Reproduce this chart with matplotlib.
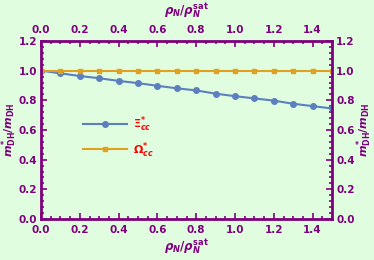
import numpy as np
import matplotlib
matplotlib.use("Agg")
import matplotlib.pyplot as plt
from matplotlib.ticker import MultipleLocator, FormatStrFormatter

# datos
rho = [0.0, 0.1, 0.2, 0.3, 0.4, 0.5, 0.6, 0.7, 0.8, 0.9, 1.0, 1.1, 1.2, 1.3, 1.4, 1.5]
xi_cc = [1.0, 0.982, 0.964, 0.949, 0.931, 0.916, 0.898, 0.881, 0.867, 0.845,
         0.828, 0.813, 0.798, 0.777, 0.761, 0.745]
omega_cc = [1.0] * 16

purple = "#7f007f"
bg = "#e0fde0"

plt.rcParams["mathtext.fontset"] = "custom"
plt.rcParams["mathtext.it"] = "DejaVu Sans:italic:bold"
plt.rcParams["mathtext.rm"] = "DejaVu Sans:bold"
plt.rcParams["mathtext.bf"] = "DejaVu Sans:bold"

fig = plt.figure(figsize=(3.74, 2.6), dpi=100, facecolor=bg)
ax = fig.add_axes([41/374, 41/260, 291/374, 178/260])
ax.set_facecolor(bg)

ax.plot(rho, xi_cc, color="#5b7fbf", lw=1.5, marker="o", ms=4, label=r"$\Xi^{*}_{cc}$")
ax.plot(rho, omega_cc, color="#e0a020", lw=1.5, marker="s", ms=3, label=r"$\Omega^{*}_{cc}$")

ax.set_xlim(0, 1.5)
ax.set_ylim(0, 1.2)
ax.xaxis.set_major_locator(MultipleLocator(0.2))
ax.xaxis.set_minor_locator(MultipleLocator(0.05))
ax.yaxis.set_major_locator(MultipleLocator(0.2))
ax.yaxis.set_minor_locator(MultipleLocator(0.04))
ax.xaxis.set_major_formatter(FormatStrFormatter("%.1f"))
ax.yaxis.set_major_formatter(FormatStrFormatter("%.1f"))

for s in ax.spines.values():
    s.set_color(purple)
    s.set_linewidth(2)

ax.tick_params(which="both", direction="in", color=purple, labelcolor=purple,
               top=True, right=True, labeltop=True, labelright=True,
               labelsize=7.5)
ax.tick_params(axis="x", pad=4)
ax.tick_params(axis="y", pad=3)
ax.tick_params(which="major", length=4, width=1.2)
ax.tick_params(which="minor", length=2, width=1.2)
for lab in ax.xaxis.get_ticklabels(which="both") + ax.yaxis.get_ticklabels(which="both"):
    lab.set_fontweight("bold")

xlab = r"$\rho_N/\rho_N^{\rm sat}$"
ylab = r"$m^{*}_{\rm DH}/m_{\rm DH}$"
fig.text(187/374, 1 - 11/260, xlab, color=purple, fontsize=8.5, ha="center", va="center")
fig.text(187/374, 1 - 247/260, xlab, color=purple, fontsize=8.5, ha="center", va="center")
fig.text(9/374, 1 - 130/260, ylab, color=purple, fontsize=8, ha="center", va="center", rotation=90)
fig.text(364/374, 1 - 130/260, ylab, color=purple, fontsize=8, ha="center", va="center", rotation=90)

leg = ax.legend(loc="center left", bbox_to_anchor=(0.11, 0.46), frameon=False,
                fontsize=8, handlelength=4, labelspacing=0.55, handletextpad=0.5)
for t in leg.get_texts():
    t.set_color("red")

plt.savefig("out.png", dpi=100, facecolor=bg)
